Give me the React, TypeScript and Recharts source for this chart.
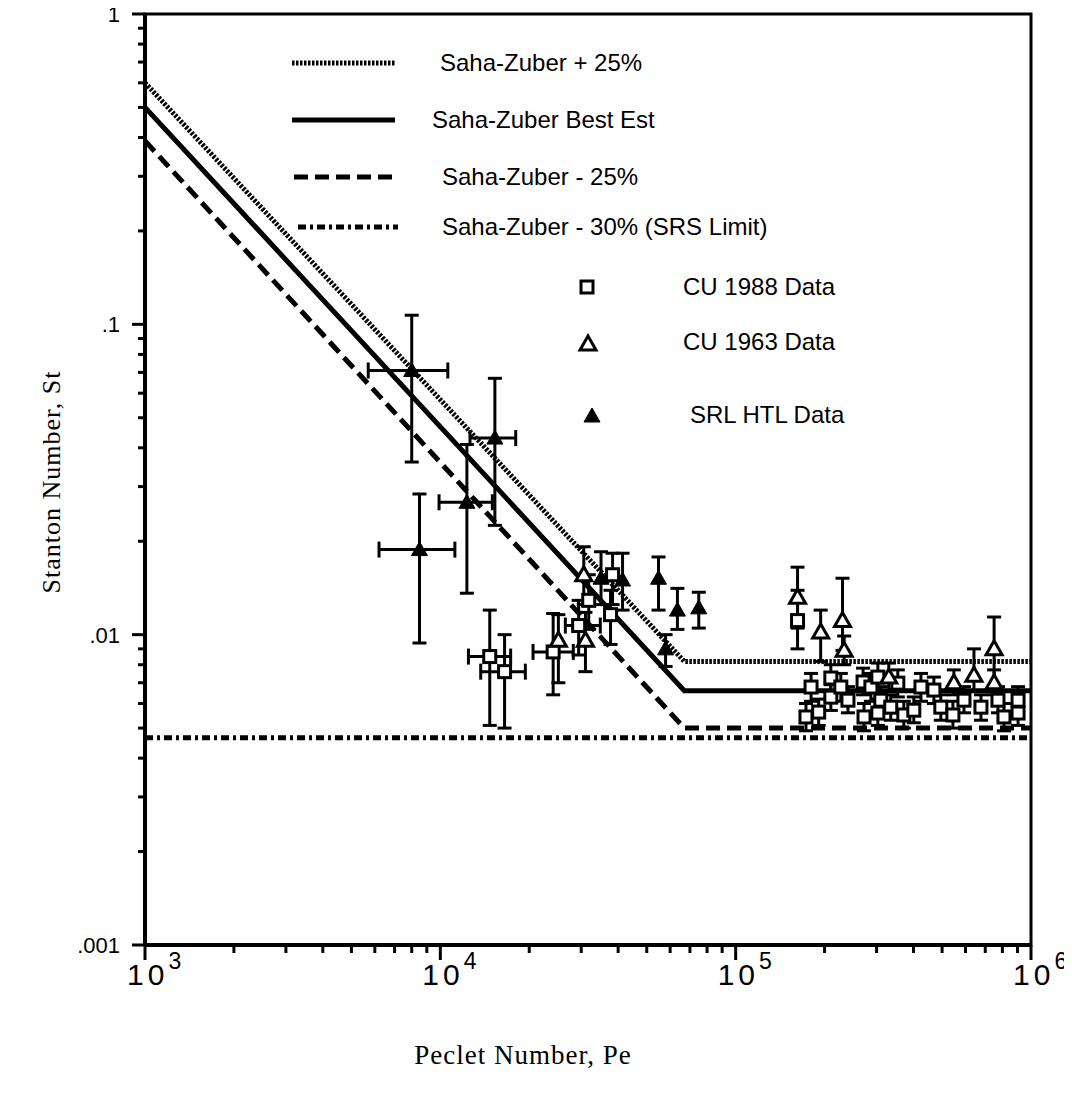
import { ComposedChart, Line, Scatter, XAxis, YAxis, ErrorBar, ReferenceArea, Legend, Label } from "recharts"

// axis ticks (log decades with minor ticks 2..9)
const minorSteps = [1, 2, 3, 4, 5, 6, 7, 8, 9]
const peDecades = [1000, 10000, 100000]
const peTicks = [...peDecades.flatMap((d) => minorSteps.map((m) => m * d)), 1000000]
const peMajor = [1000, 10000, 100000, 1000000]
const peExponents = ["3", "4", "5", "6"]
const stDecades = [0.001, 0.01, 0.1]
const stTicks = [...stDecades.flatMap((d) => minorSteps.map((m) => +(m * d).toPrecision(3))), 1]
const stMajor = [0.001, 0.01, 0.1, 1]
const stLabels = [".001", ".01", ".1", "1"]

// Saha-Zuber correlation curves
const curvePe = [1000, 67000, 1000000]
const sahaPlus25 = [0.6, 0.0082, 0.0082]
const sahaBest = [0.5, 0.0066, 0.0066]
const sahaMinus25 = [0.39, 0.005, 0.005]
const srsPe = [1000, 1000000]
const srsLimit = [0.00465, 0.00465]

// CU 1988 data (open squares)
const c88Pe = [14700, 16500, 24100, 29400, 31800, 37700, 38300, 162000, 173000, 180000, 191000, 210000, 210000, 227000, 240000, 270000, 272000, 287000, 303000, 303000, 310000, 335000, 354000, 371000, 401000, 424000, 469000, 495000, 544000, 593000, 677000, 773000, 810000, 904000, 904000]
const c88PeLo = [12450, 13700, 20600, 26500]
const c88PeHi = [17300, 19400, 28200, 34800]
const c88St = [0.0085, 0.0076, 0.0088, 0.0107, 0.0129, 0.0116, 0.0156, 0.0111, 0.00543, 0.00678, 0.00563, 0.00725, 0.00629, 0.00678, 0.00615, 0.00704, 0.00543, 0.00678, 0.0073, 0.00559, 0.00615, 0.00584, 0.00698, 0.00551, 0.00571, 0.00678, 0.00663, 0.00584, 0.00551, 0.00615, 0.00584, 0.00615, 0.00543, 0.00559, 0.00615]
const c88StLo = [0.0051, 0.005, 0.0064, 0.0086, 0.0104, 0.0093, 0.0125, 0.009, 0.0049, 0.0061, 0.0051, 0.0066, 0.0057, 0.0061, 0.0056, 0.0064, 0.0049, 0.0061, 0.0066, 0.0051, 0.0056, 0.0053, 0.0063, 0.005, 0.0052, 0.0061, 0.006, 0.0053, 0.005, 0.0056, 0.0053, 0.0056, 0.0049, 0.0051, 0.0056]
const c88StHi = [0.012, 0.01, 0.0117, 0.0129, 0.0156, 0.0139, 0.0183, 0.0139, 0.006, 0.0075, 0.0062, 0.008, 0.0069, 0.0075, 0.0068, 0.0078, 0.006, 0.0075, 0.0081, 0.0062, 0.0068, 0.0064, 0.0077, 0.0061, 0.0063, 0.0075, 0.0073, 0.0064, 0.0061, 0.0068, 0.0064, 0.0068, 0.006, 0.0062, 0.0068]

// CU 1963 data (open triangles)
const c63Pe = [25100, 30600, 31000, 162000, 194000, 230000, 233000, 330000, 548000, 641000, 750000, 750000]
const c63St = [0.0096, 0.0156, 0.0096, 0.0132, 0.0102, 0.0111, 0.0089, 0.0073, 0.007, 0.0074, 0.009, 0.007]
const c63StLo = [0.007, 0.0125, 0.0076, 0.0105, 0.0082, 0.0089, 0.008, 0.0066, 0.0064, 0.0066, 0.0066, 0.0064]
const c63StHi = [0.0116, 0.0192, 0.0118, 0.0165, 0.012, 0.0152, 0.0099, 0.0081, 0.0077, 0.009, 0.0114, 0.0077]

// SRL HTL data (filled triangles)
const srlPe = [8000, 15300, 12300, 8500, 35000, 41400, 54800, 57900, 63500, 75000]
const srlPeLo = [5700, 12600, 9900, 6200]
const srlPeHi = [10600, 18000, 15000, 11200]
const srlSt = [0.071, 0.043, 0.0267, 0.0188, 0.0152, 0.015, 0.0152, 0.009, 0.012, 0.0122]
const srlStLo = [0.036, 0.0225, 0.0136, 0.0094, 0.0125, 0.012, 0.012, 0.0079, 0.0104, 0.0105]
const srlStHi = [0.107, 0.067, 0.041, 0.0284, 0.0185, 0.0183, 0.0178, 0.01, 0.0141, 0.0137]

const curve = (ys: number[], xs: number[]) => xs.map((pe, i) => ({ pe, st: ys[i] }))

const points = (pe: number[], st: number[], lo: number[], hi: number[], peLo: number[] = [], peHi: number[] = []) =>
  pe.map((x, i) => ({
    pe: x,
    st: st[i],
    stErr: [st[i] - lo[i], hi[i] - st[i]],
    peErr: peLo[i] != null ? [x - peLo[i], peHi[i] - x] : null,
  }))

const c88Data = points(c88Pe, c88St, c88StLo, c88StHi, c88PeLo, c88PeHi)
const c63Data = points(c63Pe, c63St, c63StLo, c63StHi)
const srlData = points(srlPe, srlSt, srlStLo, srlStHi, srlPeLo, srlPeHi)

const sans = "'Liberation Sans', Arial, sans-serif"
const serif = "'Liberation Serif', 'DejaVu Serif', serif"

const dotted = "2.5 1.5"
const dashed = "14 7"
const dashDot = "8 4 3 4"

const OpenSquare = (p: any) => (
  <rect x={p.cx - 6} y={p.cy - 6} width={12} height={12} fill="#fff" stroke="#000" strokeWidth={3} />
)
const OpenTriangle = (p: any) => (
  <polygon points={`${p.cx},${p.cy - 8} ${p.cx + 8},${p.cy + 6} ${p.cx - 8},${p.cy + 6}`} fill="#fff" stroke="#000" strokeWidth={3} />
)
const FilledTriangle = (p: any) => (
  <polygon points={`${p.cx},${p.cy - 8} ${p.cx + 8},${p.cy + 6} ${p.cx - 8},${p.cy + 6}`} fill="#000" stroke="#000" strokeWidth={1} />
)

const StTick = (props: any) => {
  const { x, y, payload } = props
  const i = stMajor.indexOf(payload.value)
  const major = i >= 0
  return (
    <g>
      <line x1={x - (major ? 13 : 7)} y1={y} x2={x} y2={y} stroke="#000" strokeWidth={3} />
      {major && (
        <text x={x - 25} y={y + 8} textAnchor="end" fontFamily={sans} fontSize={22} fill="#000">
          {stLabels[i]}
        </text>
      )}
    </g>
  )
}

const PeTick = (props: any) => {
  const { x, y, payload } = props
  const i = peMajor.indexOf(payload.value)
  const major = i >= 0
  return (
    <g>
      <line x1={x} y1={y} x2={x} y2={y + (major ? 15 : 8)} stroke="#000" strokeWidth={3} />
      {major && (
        <text x={x - 18} y={y + 40} fontFamily={sans} fontSize={30} fill="#000" letterSpacing={4}>
          10
          <tspan fontSize={23} dy={-16} letterSpacing={0}>
            {peExponents[i]}
          </tspan>
        </text>
      )}
    </g>
  )
}

const LegendBox = () => (
  <svg width={620} height={420}>
    <g stroke="#000" strokeWidth={5}>
      <line x1={12} y1={33} x2={115} y2={33} strokeDasharray={dotted} />
      <line x1={12} y1={90} x2={115} y2={90} />
      <line x1={14} y1={147} x2={115} y2={147} strokeDasharray={dashed} />
      <line x1={18} y1={197} x2={118} y2={197} strokeDasharray={dashDot} />
    </g>
    <g fontFamily={sans} fontSize={24} fill="#000">
      <text x={160} y={41}>Saha-Zuber + 25%</text>
      <text x={152} y={98}>Saha-Zuber Best Est</text>
      <text x={162} y={155}>Saha-Zuber - 25%</text>
      <text x={162} y={205}>Saha-Zuber - 30% (SRS Limit)</text>
      <text x={403} y={265}>CU 1988 Data</text>
      <text x={403} y={320}>CU 1963 Data</text>
      <text x={410} y={393}>SRL HTL Data</text>
    </g>
    <OpenSquare cx={307} cy={257} />
    <OpenTriangle cx={308} cy={314} />
    <FilledTriangle cx={312} cy={386} />
  </svg>
)

export default function App() {
  return (
    <div style={{ fontFamily: sans, background: "#fff" }}>
      <style>{`.recharts-surface { overflow: visible; }`}</style>
      <ComposedChart width={1056} height={1100} margin={{ top: 6, right: 33, bottom: 103, left: 57 }}>
        <XAxis
          dataKey="pe"
          type="number"
          scale="log"
          domain={[1000, 1000000]}
          allowDataOverflow
          ticks={peTicks}
          interval={0}
          tick={<PeTick />}
          tickLine={false}
          tickSize={0}
          tickMargin={0}
          height={60}
          axisLine={{ stroke: "#000", strokeWidth: 4 }}
        >
          <Label
            content={() => (
              <text x={515} y={1056} textAnchor="middle" fontFamily={serif} fontSize={27} letterSpacing={1} fill="#000">
                Peclet Number, Pe
              </text>
            )}
          />
        </XAxis>
        <YAxis
          dataKey="st"
          type="number"
          scale="log"
          domain={[0.001, 1]}
          allowDataOverflow
          ticks={stTicks}
          interval={0}
          tick={<StTick />}
          tickLine={false}
          tickSize={0}
          tickMargin={0}
          width={80}
          axisLine={{ stroke: "#000", strokeWidth: 4 }}
        >
          <Label
            content={() => (
              <text x={52} y={474} transform="rotate(-90, 52, 474)" textAnchor="middle" fontFamily={serif} fontSize={26} letterSpacing={1} fill="#000">
                Stanton Number, St
              </text>
            )}
          />
        </YAxis>
        <ReferenceArea x1={1000} x2={1000000} y1={0.001} y2={1} fill="none" stroke="#000" strokeWidth={3} />
        <Legend
          layout="vertical"
          align="center"
          verticalAlign="middle"
          content={LegendBox}
          wrapperStyle={{ left: 272, top: 22, width: 620, height: 420 }}
        />
        <Line data={curve(srsLimit, srsPe)} dataKey="st" type="linear" stroke="#000" strokeWidth={5} strokeDasharray={dashDot} dot={false} isAnimationActive={false} />
        <Line data={curve(sahaMinus25, curvePe)} dataKey="st" type="linear" stroke="#000" strokeWidth={5} strokeDasharray={dashed} dot={false} isAnimationActive={false} />
        <Line data={curve(sahaBest, curvePe)} dataKey="st" type="linear" stroke="#000" strokeWidth={5} dot={false} isAnimationActive={false} />
        <Line data={curve(sahaPlus25, curvePe)} dataKey="st" type="linear" stroke="#000" strokeWidth={5} strokeDasharray={dotted} dot={false} isAnimationActive={false} />
        <Scatter data={c88Data} shape={OpenSquare} isAnimationActive={false}>
          <ErrorBar dataKey="stErr" direction="y" width={7} stroke="#000" strokeWidth={3} />
          <ErrorBar dataKey="peErr" direction="x" width={8} stroke="#000" strokeWidth={3} />
        </Scatter>
        <Scatter data={c63Data} shape={OpenTriangle} isAnimationActive={false}>
          <ErrorBar dataKey="stErr" direction="y" width={7} stroke="#000" strokeWidth={3} />
        </Scatter>
        <Scatter data={srlData} shape={FilledTriangle} isAnimationActive={false}>
          <ErrorBar dataKey="stErr" direction="y" width={7} stroke="#000" strokeWidth={3} />
          <ErrorBar dataKey="peErr" direction="x" width={8} stroke="#000" strokeWidth={3} />
        </Scatter>
      </ComposedChart>
    </div>
  )
}
